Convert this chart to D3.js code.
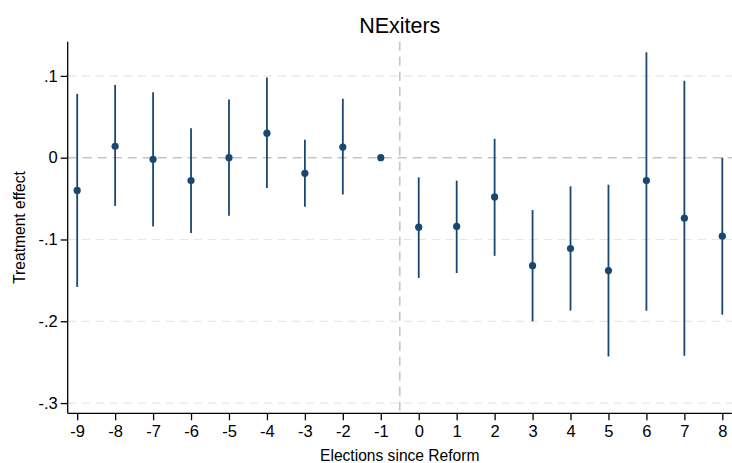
<!DOCTYPE html>
<html>
<head>
<meta charset="utf-8">
<script src="https://cdn.jsdelivr.net/npm/d3@7"></script>
<style>
body { margin: 0; background: #fff; }
text { font-family: "Liberation Sans", Arial, Helvetica, sans-serif; fill: #000; }
</style>
</head>
<body>
<svg id="chart" width="732" height="463"></svg>
<script>
const elections = [-9, -8, -7, -6, -5, -4, -3, -2, -1, 0, 1, 2, 3, 4, 5, 6, 7, 8];
const estimates = [-0.040, 0.014, -0.002, -0.028, 0.000, 0.030, -0.019, 0.013, 0.000, -0.085, -0.084, -0.048, -0.132, -0.111, -0.138, -0.028, -0.074, -0.096];
const ciLower = [-0.158, -0.059, -0.084, -0.092, -0.071, -0.037, -0.060, -0.045, null, -0.147, -0.141, -0.120, -0.200, -0.187, -0.243, -0.187, -0.242, -0.192];
const ciUpper = [0.078, 0.089, 0.080, 0.036, 0.071, 0.098, 0.022, 0.072, null, -0.024, -0.028, 0.023, -0.064, -0.035, -0.033, 0.129, 0.094, 0.000];
const yTicks = [0.1, 0, -0.1, -0.2, -0.3];
const yTickLabels = [".1", "0", "-.1", "-.2", "-.3"];
const xTickLabels = ["-9","-8","-7","-6","-5","-4","-3","-2","-1","0","1","2","3","4","5","6","7","8"];

(function () {
const svg = d3.select("#chart");
const pL = 67.7, pR = 731.8, pT = 41.7, pB = 413.3;
const x = d3.scaleLinear().domain([-9.25, 8.25]).range([pL, pR]);
const y = d3.scaleLinear().domain([-0.3125, 0.1418]).range([pB, pT]);
const color = "#1a476f";

// gridlines
svg.append("g").selectAll("line").data(yTicks.filter(d => d !== 0)).join("line")
  .attr("x1", pL).attr("x2", pR)
  .attr("y1", d => y(d)).attr("y2", d => y(d))
  .attr("stroke", "#e6e6e6").attr("stroke-width", 1.2).attr("stroke-dasharray", "8,6");

// zero line
svg.append("line").attr("x1", pL).attr("x2", pR)
  .attr("y1", y(0)).attr("y2", y(0))
  .attr("stroke", "#c4c4c4").attr("stroke-width", 1.6).attr("stroke-dasharray", "9,6");

// vertical reform line
svg.append("line").attr("x1", x(-0.5)).attr("x2", x(-0.5))
  .attr("y1", pT).attr("y2", pB)
  .attr("stroke", "#c4c4c4").attr("stroke-width", 1.6).attr("stroke-dasharray", "9,6");

// CIs
const data = elections.map((e, i) => ({e, est: estimates[i], lo: ciLower[i], hi: ciUpper[i]}));
svg.append("g").selectAll("line").data(data.filter(d => d.lo !== null)).join("line")
  .attr("x1", d => x(d.e)).attr("x2", d => x(d.e))
  .attr("y1", d => y(d.lo)).attr("y2", d => y(d.hi))
  .attr("stroke", color).attr("stroke-width", 1.8);

svg.append("g").selectAll("circle").data(data).join("circle")
  .attr("cx", d => x(d.e)).attr("cy", d => y(d.est)).attr("r", 3.6)
  .attr("fill", color);

// axes
const yAxis = d3.axisLeft(y).tickValues(yTicks).tickFormat((d, i) => yTickLabels[i]).tickSize(7).tickPadding(3);
const gy = svg.append("g").attr("transform", `translate(${pL},0)`).call(yAxis);
gy.select(".domain").attr("d", `M0,${pT}V${pB}`).attr("stroke", "#000").attr("stroke-width", 1.3);
gy.selectAll(".tick line").attr("stroke", "#000").attr("stroke-width", 1.3);
gy.selectAll(".tick text").attr("font-size", 16.5).style("font-family", '"Liberation Sans", Arial, sans-serif');

const xAxis = d3.axisBottom(x).tickValues(elections).tickFormat((d, i) => xTickLabels[i]).tickSize(7).tickPadding(5);
const gx = svg.append("g").attr("transform", `translate(0,${pB})`).call(xAxis);
gx.select(".domain").attr("d", `M${pL},0H${pR}`).attr("stroke", "#000").attr("stroke-width", 1.3);
gx.selectAll(".tick line").attr("stroke", "#000").attr("stroke-width", 1.3);
gx.selectAll(".tick text").attr("font-size", 16.5).style("font-family", '"Liberation Sans", Arial, sans-serif');

// title
svg.append("text").attr("x", (pL + pR) / 2).attr("y", 33).attr("text-anchor", "middle")
  .attr("font-size", 21.5).text("NExiters");

// axis titles
svg.append("text").attr("x", (pL + pR) / 2).attr("y", 460.5).attr("text-anchor", "middle")
  .attr("font-size", 15.6).text("Elections since Reform");
svg.append("text").attr("transform", `translate(24.5,${(pT + pB) / 2}) rotate(-90)`)
  .attr("text-anchor", "middle").attr("font-size", 15.6).text("Treatment effect");
})();
</script>
</body>
</html>
